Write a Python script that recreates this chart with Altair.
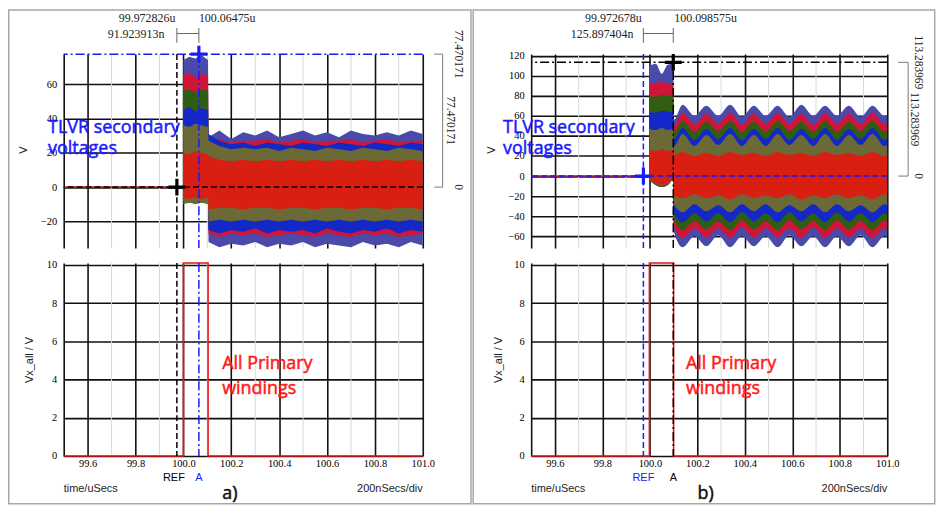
import altair as alt
import pandas as pd

# ---------------- data ----------------
X_DOMAIN = [99.5, 101.0]
X_MAJOR = [99.5, 99.6, 99.8, 100.0, 100.2, 100.4, 100.6, 100.8, 101.0]
X_MINOR = [99.7, 99.9, 100.1, 100.3, 100.5, 100.7, 100.9]

A_Y_DOMAIN = [-35.5, 77.5]
A_Y_TICKS = [-20, 0, 20, 40, 60]
B_Y_DOMAIN = [-71.7, 121.5]
B_Y_TICKS = [-60, -40, -20, 0, 20, 40, 60, 80, 100, 120]
P_Y_DOMAIN = [0, 10.1]
P_Y_TICKS = [0, 2, 4, 6, 8, 10]

SERIES = ["s1", "s2", "s3", "s4", "s5", "s6"]
SERIES_COLORS = ["#4a4aaa", "#cf1538", "#2f5d12", "#1328c6", "#6b6a37", "#d81f12"]

# panel a) secondary voltage envelopes
A_T = [100.0, 100.025, 100.05, 100.075, 100.103,
       100.105, 100.15, 100.2, 100.25, 100.3, 100.35, 100.4, 100.45, 100.5, 100.55,
       100.6, 100.65, 100.7, 100.75, 100.8, 100.85, 100.9, 100.95, 101.0]
A_HI = {
    "s1": [74, 76, 75, 77, 74, 29, 33, 28, 32, 30, 33, 29, 31, 33, 30, 32, 29, 33, 31, 30, 32, 30, 33, 31],
    "s2": [65, 67, 64, 66, 65, 27, 28, 26, 27, 27, 28, 26, 27, 28, 26, 27, 27, 28, 26, 27, 28, 26, 27, 27],
    "s3": [56, 57, 55, 57, 56, 25, 24, 24, 25, 24, 24, 25, 24, 24, 25, 24, 24, 25, 24, 24, 25, 24, 24, 25],
    "s4": [45, 47, 44, 46, 45, 31, 27, 25, 26, 24, 26, 25, 24, 26, 25, 24, 26, 25, 24, 26, 25, 24, 26, 25],
    "s5": [36, 35, 37, 36, 35, 27, 24, 22, 23, 22, 23, 21, 23, 22, 21, 23, 22, 21, 23, 22, 21, 23, 22, 21],
    "s6": [20, 19, 21, 20, 19, 18, 16, 15, 16, 15, 16, 15, 16, 15, 16, 15, 16, 15, 16, 15, 16, 15, 16, 15],
}
A_LO = {
    "s1": [-8, -9, -8, -9, -8, -32, -35, -33, -34, -32, -35, -33, -34, -32, -35, -33, -34, -35, -32, -34, -33, -35, -32, -34],
    "s2": [-8, -9, -8, -9, -8, -27, -29, -27, -28, -27, -29, -28, -27, -28, -29, -27, -28, -29, -27, -28, -27, -29, -28, -27],
    "s3": [-8, -9, -8, -9, -8, -24, -24, -25, -24, -24, -25, -24, -24, -25, -24, -24, -25, -24, -24, -25, -24, -24, -25, -24],
    "s4": [-8, -9, -8, -9, -8, -25, -27, -25, -26, -24, -27, -25, -26, -25, -27, -24, -26, -27, -25, -26, -24, -27, -25, -26],
    "s5": [-10, -9, -10, -9, -10, -20, -19, -20, -19, -20, -19, -20, -19, -20, -19, -20, -19, -20, -19, -20, -19, -20, -19, -20],
    "s6": [-6, -7, -6, -7, -6, -13, -12, -12, -13, -12, -12, -13, -12, -12, -13, -12, -12, -13, -12, -12, -13, -12, -12, -13],
}

# panel b) secondary voltage envelopes
B_T = [99.998, 100.025, 100.05, 100.075, 100.098,
       100.101, 100.138, 100.188, 100.238, 100.288, 100.338, 100.388, 100.438, 100.488, 100.538,
       100.588, 100.638, 100.688, 100.738, 100.788, 100.838, 100.888, 100.938, 100.988, 101.0]
B_HI = {
    "s1": [110, 112, 102, 111, 112, 56, 71, 60, 70, 60, 71, 59, 70, 60, 70, 59, 71, 60, 70, 60, 70, 59, 70, 60, 61],
    "s2": [92, 93, 94, 92, 93, 50, 63, 52, 62, 52, 63, 51, 62, 52, 63, 52, 62, 51, 63, 52, 62, 52, 63, 52, 53],
    "s3": [80, 79, 81, 80, 79, 44, 55, 44, 54, 45, 55, 44, 54, 44, 55, 45, 54, 44, 55, 44, 54, 45, 55, 44, 45],
    "s4": [64, 63, 65, 64, 63, 37, 48, 36, 47, 37, 48, 36, 47, 37, 48, 36, 47, 37, 48, 36, 47, 37, 48, 36, 38],
    "s5": [47, 46, 48, 46, 47, 30, 42, 30, 41, 31, 42, 30, 41, 30, 42, 31, 41, 30, 42, 30, 41, 31, 42, 30, 31],
    "s6": [26, 25, 27, 25, 26, 21, 24, 20, 23, 20, 24, 21, 23, 20, 24, 21, 23, 20, 24, 21, 23, 20, 24, 20, 21],
}
B_LO = {
    "s1": [-4, -9, -11, -9, -4, -55, -71, -60, -70, -59, -71, -60, -70, -60, -71, -59, -70, -60, -71, -60, -70, -59, -71, -60, -61],
    "s2": [-4, -9, -11, -9, -4, -50, -62, -52, -61, -52, -62, -51, -62, -52, -61, -52, -62, -51, -62, -52, -61, -52, -62, -52, -53],
    "s3": [-4, -9, -11, -9, -4, -43, -54, -45, -53, -45, -54, -44, -53, -45, -54, -44, -53, -45, -54, -44, -53, -45, -54, -44, -45],
    "s4": [-4, -8, -10, -8, -4, -36, -46, -37, -45, -37, -46, -36, -45, -37, -46, -36, -45, -37, -46, -36, -45, -37, -46, -37, -38],
    "s5": [-4, -8, -10, -8, -4, -28, -36, -28, -35, -29, -36, -28, -35, -28, -36, -29, -35, -28, -36, -28, -35, -29, -36, -28, -29],
    "s6": [-3, -7, -9, -7, -3, -19, -22, -18, -22, -19, -23, -18, -22, -19, -22, -18, -23, -19, -22, -18, -22, -19, -23, -18, -19],
}

PRE_A_T = [99.5, 100.0]
PRE_B_T = [99.5, 99.998]
PRE_V = [0, 0]

A_PULSE_T = [99.5, 100.0, 100.0, 100.103, 100.103, 101.0]
B_PULSE_T = [99.5, 99.998, 99.998, 100.1, 100.1, 101.0]
PULSE_V = [0, 0, 10.1, 10.1, 0, 0]

A_REF_T, A_REF_V = 99.972826, 0.0
A_CUR_T, A_CUR_V = 100.06475, 77.470171
B_REF_T, B_REF_V = 99.972678, 0.0
B_CUR_T, B_CUR_V = 100.098575, 113.283969

A_LABELS = {"ref": "99.972826u", "cur": "100.06475u", "delta": "91.923913n", "val": "77.470171"}
B_LABELS = {"ref": "99.972678u", "cur": "100.098575u", "delta": "125.897404n", "val": "113.283969"}

# ---------------- style ----------------
BLUE = "#1a1aff"
BLACK = "#000000"
RED = "#ff1a1a"
GRAY = "#7a7a7a"
DASH = [6, 3]
DASHDOT = [9, 3, 2, 3]
CROSS = "M-1,0H1M0,-1V1"
XS = dict(domain=X_DOMAIN, nice=False, zero=False)


def one(**kw):
    return pd.DataFrame({k: [v] for k, v in kw.items()})


def top_panel(T, HI, LO, interp, ydom, yticks, pre_t, ref, cur, ref_col, cur_col,
              ref_dash, cur_dash, labels, g):
    ax_x = alt.Axis(values=X_MAJOR, grid=True, labels=False, ticks=False, domain=False, title=None)
    ax_y = alt.Axis(values=yticks, grid=True, title="V", titleX=g["vt_x"], titleY=96,
                    titleAngle=-90, titleAlign="center", titleBaseline="middle",
                    labelPadding=7, labelFlush=False, labelOverlap=False)
    xs = alt.Scale(**XS)
    ys = alt.Scale(domain=ydom, nice=False, zero=False)

    def X(f):
        return alt.X(f, type="quantitative", scale=xs, axis=ax_x)

    def Y(f):
        return alt.Y(f, type="quantitative", scale=ys, axis=ax_y)

    L = []
    L.append(alt.Chart(pd.DataFrame({"t": X_MINOR})).mark_rule(color="#d9d9d9", strokeWidth=1)
             .encode(x=X("t")))
    for s, c in zip(SERIES, SERIES_COLORS):
        df = pd.DataFrame({"t": T, "lo": LO[s], "hi": HI[s]})
        L.append(alt.Chart(df).mark_area(color=c, interpolate=interp, clip=True, opacity=1)
                 .encode(x=X("t"), y=Y("lo"), y2=alt.Y2("hi")))
    L.append(alt.Chart(pd.DataFrame({"t": pre_t, "v": PRE_V})).mark_line(color="#e01010", strokeWidth=1.6)
             .encode(x=X("t"), y=Y("v")))
    # cursors
    L.append(alt.Chart(one(t=ref[0])).mark_rule(color=ref_col, strokeDash=ref_dash, strokeWidth=1.5)
             .encode(x=X("t")))
    L.append(alt.Chart(one(t=cur[0])).mark_rule(color=cur_col, strokeDash=cur_dash, strokeWidth=1.5)
             .encode(x=X("t")))
    L.append(alt.Chart(one(v=ref[1])).mark_rule(color=ref_col, strokeDash=ref_dash, strokeWidth=1.5)
             .encode(y=Y("v")))
    L.append(alt.Chart(one(v=cur[1])).mark_rule(color=cur_col, strokeDash=cur_dash, strokeWidth=1.5)
             .encode(y=Y("v")))
    crosses = pd.DataFrame({"t": [ref[0], cur[0]], "v": [ref[1], cur[1]], "c": [ref_col, cur_col]})
    L.append(alt.Chart(crosses).mark_point(shape=CROSS, size=289, filled=False, strokeWidth=3.2, opacity=1)
             .encode(x=X("t"), y=Y("v"), color=alt.Color("c:N", scale=None)))
    # right-hand measurement bracket
    L.append(alt.Chart(one(v=cur[1], v2=0.0)).mark_rule(color=GRAY, strokeWidth=1)
             .encode(x=alt.value(g["rb_line"]), y=Y("v"), y2=alt.Y2("v2")))
    L.append(alt.Chart(pd.DataFrame({"v": [cur[1], 0.0]})).mark_rule(color=GRAY, strokeWidth=1)
             .encode(x=alt.value(g["rb_tick"]), x2=alt.value(g["rb_line"]), y=Y("v")))
    rt = dict(angle=90, align="center", baseline="middle", font="Liberation Serif",
              fontSize=11.5, color="#222")
    L.append(alt.Chart(one(v=cur[1], s=labels["val"])).mark_text(**rt)
             .encode(x=alt.value(g["rb_lab1"]), y=Y("v"), text="s:N"))
    L.append(alt.Chart(one(v=cur[1] / 2, s=labels["val"])).mark_text(**rt)
             .encode(x=alt.value(g["rb_lab2"]), y=Y("v"), text="s:N"))
    L.append(alt.Chart(one(v=0.0, s="0")).mark_text(**rt)
             .encode(x=alt.value(g["rb_lab1"]), y=Y("v"), text="s:N"))
    # top delta annotation
    tt = dict(font="Liberation Serif", fontSize=12, color="#222", baseline="alphabetic")
    L.append(alt.Chart(one(t=ref[0], s=labels["ref"])).mark_text(align="right", dx=g["ref_dx"], **tt)
             .encode(x=X("t"), y=alt.value(-32.3), text="s:N"))
    L.append(alt.Chart(one(t=cur[0], s=labels["cur"])).mark_text(align="left", dx=g["cur_dx"], **tt)
             .encode(x=X("t"), y=alt.value(-32.3), text="s:N"))
    L.append(alt.Chart(one(t=ref[0], s=labels["delta"])).mark_text(align="right", dx=g["delta_dx"], **tt)
             .encode(x=X("t"), y=alt.value(-15.7), text="s:N"))
    L.append(alt.Chart(one(t=ref[0], t2=cur[0])).mark_rule(color="#666", strokeWidth=1)
             .encode(x=X("t"), x2=alt.X2("t2"), y=alt.value(-20.7)))
    L.append(alt.Chart(pd.DataFrame({"t": [ref[0], cur[0]]})).mark_rule(color="#666", strokeWidth=1)
             .encode(x=X("t"), y=alt.value(-26.3), y2=alt.value(-11.3)))
    # label text
    L.append(alt.Chart(one(k=0)).mark_text(lineBreak="\n", lineHeight=21, align="left", baseline="alphabetic",
                                           font="Open Sans", fontSize=18, color=BLUE,
                                           stroke=BLUE, strokeWidth=0.5)
             .encode(x=alt.value(g["tlvr_x"]), y=alt.value(79.3), text=alt.value("TLVR secondary\nvoltages")))
    # panel frame
    b = g["border"]
    L.append(alt.Chart(one(k=0)).mark_rect(fillOpacity=0, stroke="#a8a8a8", strokeWidth=1.5)
             .encode(x=alt.value(b[0]), x2=alt.value(b[1]), y=alt.value(b[2]), y2=alt.value(b[3])))
    return alt.layer(*L).properties(width=g["w"], height=195)


def bottom_panel(pulse_t, ref, cur, ref_col, cur_col, ref_dash, cur_dash, g):
    ax_x = alt.Axis(values=X_MAJOR, grid=True, ticks=False, domain=False, title=None,
                    labelExpr="datum.value < 99.55 ? '' : format(datum.value, '.1f')",
                    labelPadding=3, labelFlush=False, labelOverlap=False)
    ax_y = alt.Axis(values=P_Y_TICKS, grid=True, title="Vx_all / V", titleX=g["pt_x"], titleY=97,
                    titleAngle=-90, titleAlign="center", titleBaseline="middle",
                    labelPadding=7, labelFlush=False, labelOverlap=False)
    xs = alt.Scale(**XS)
    ys = alt.Scale(domain=P_Y_DOMAIN, nice=False, zero=False)

    def X(f):
        return alt.X(f, type="quantitative", scale=xs, axis=ax_x)

    def Y(f):
        return alt.Y(f, type="quantitative", scale=ys, axis=ax_y)

    L = []
    L.append(alt.Chart(pd.DataFrame({"t": X_MINOR})).mark_rule(color="#d9d9d9", strokeWidth=1)
             .encode(x=X("t")))
    pdf = pd.DataFrame({"t": pulse_t, "v": PULSE_V, "i": list(range(len(pulse_t)))})
    L.append(alt.Chart(pdf).mark_line(color="#e81515", strokeWidth=1.6)
             .encode(x=X("t"), y=Y("v"), order=alt.Order("i:Q")))
    L.append(alt.Chart(one(t=ref[0])).mark_rule(color=ref_col, strokeDash=ref_dash, strokeWidth=1.5)
             .encode(x=X("t")))
    L.append(alt.Chart(one(t=cur[0])).mark_rule(color=cur_col, strokeDash=cur_dash, strokeWidth=1.5)
             .encode(x=X("t")))
    st = dict(font="Liberation Sans", fontSize=11, baseline="alphabetic")
    L.append(alt.Chart(one(t=ref[0], s="REF")).mark_text(align="center", dx=g["reflab_dx"], color=ref_col, **st)
             .encode(x=X("t"), y=alt.value(219), text="s:N"))
    L.append(alt.Chart(one(t=cur[0], s="A")).mark_text(align="center", color=cur_col, **st)
             .encode(x=X("t"), y=alt.value(219), text="s:N"))
    L.append(alt.Chart(one(t=X_DOMAIN[0], s="time/uSecs")).mark_text(align="left", color="#222", **st)
             .encode(x=X("t"), y=alt.value(230), text="s:N"))
    L.append(alt.Chart(one(t=X_DOMAIN[1], s="200nSecs/div")).mark_text(align="right", color="#222", **st)
             .encode(x=X("t"), y=alt.value(230), text="s:N"))
    L.append(alt.Chart(one(t=g["tag_t"], s=g["tag"])).mark_text(align="center", baseline="alphabetic",
                                                                  font="Open Sans", fontSize=18, color="#111",
                                                                  stroke="#111", strokeWidth=0.5)
             .encode(x=X("t"), y=alt.value(237), text="s:N"))
    L.append(alt.Chart(one(t=g["prim_t"])).mark_text(lineBreak="\n", lineHeight=25, align="left",
                                                     baseline="alphabetic", font="Open Sans", fontSize=18,
                                                     color=RED, stroke=RED, strokeWidth=0.5)
             .encode(x=X("t"), y=alt.value(107), text=alt.value("All Primary\nwindings")))
    return alt.layer(*L).properties(width=g["w"], height=194)


GA = dict(w=361, vt_x=-40, rb_line=381, rb_tick=372.5, rb_lab1=396.7, rb_lab2=388.3,
          ref_dx=-1.5, cur_dx=0, delta_dx=-12.6, tlvr_x=-15.7,
          border=(-55.25, 409.5, -44.25, 452))
GB = dict(w=358, vt_x=-40.3, rb_line=379, rb_tick=369, rb_lab1=389, rb_lab2=384.7,
          ref_dx=-1.7, cur_dx=1, delta_dx=-10, tlvr_x=-28.3,
          border=(-58.3, 405.7, -44.25, 452))
PA = dict(w=361, pt_x=-34, reflab_dx=-3, tag="a)", tag_t=100.194, prim_t=100.162)
PB = dict(w=358, pt_x=-32.6, reflab_dx=0, tag="b)", tag_t=100.235, prim_t=100.152)

topA = top_panel(A_T, A_HI, A_LO, "linear", A_Y_DOMAIN, A_Y_TICKS, PRE_A_T,
                 (A_REF_T, A_REF_V), (A_CUR_T, A_CUR_V), BLACK, BLUE, DASH, DASHDOT, A_LABELS, GA)
topB = top_panel(B_T, B_HI, B_LO, "monotone", B_Y_DOMAIN, B_Y_TICKS, PRE_B_T,
                 (B_REF_T, B_REF_V), (B_CUR_T, B_CUR_V), BLUE, BLACK, DASH, DASHDOT, B_LABELS, GB)
botA = bottom_panel(A_PULSE_T, (A_REF_T, A_REF_V), (A_CUR_T, A_CUR_V), BLACK, BLUE, DASH, DASHDOT, PA)
botB = bottom_panel(B_PULSE_T, (B_REF_T, B_REF_V), (B_CUR_T, B_CUR_V), BLUE, BLACK, DASH, DASHDOT, PB)

chart = (
    alt.concat(topA, topB, botA, botB, columns=2, spacing={"row": 15, "column": 109},
               bounds="flush", align="each")
    .properties(padding=0, background="white")
    .configure_view(strokeWidth=0)
    .configure_axis(labelFont="Liberation Serif", labelFontSize=10.5, labelColor="#000",
                    domain=False, ticks=False, gridColor="#111", gridWidth=1.6, gridOpacity=1,
                    titleFont="Liberation Sans", titleFontSize=11, titleFontWeight="normal",
                    titleColor="#222")
)

chart.save("out.html", embed_options={"renderer": "svg", "actions": False})
